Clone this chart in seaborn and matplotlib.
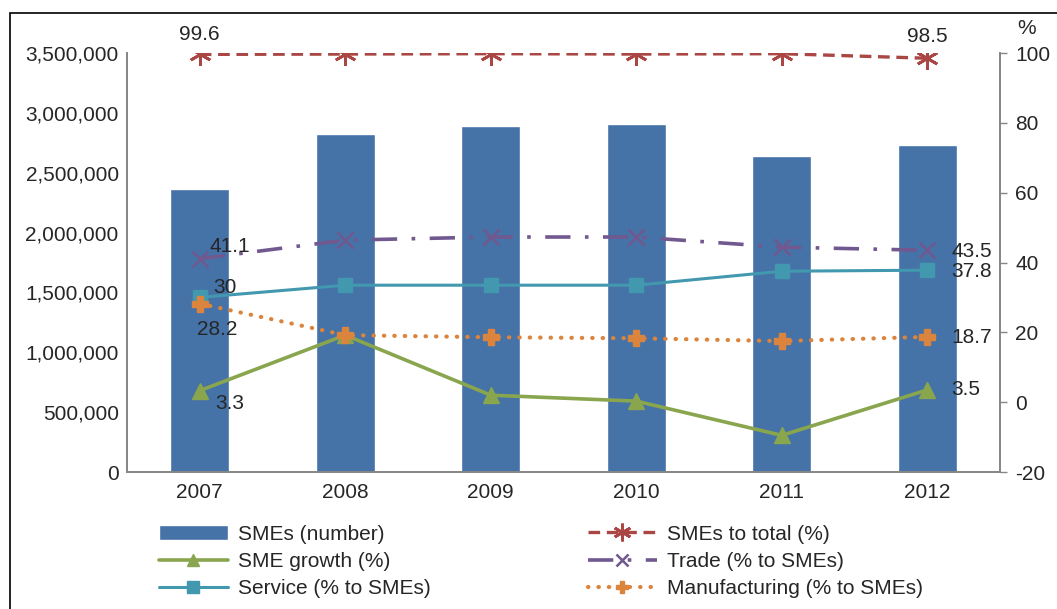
import numpy as np
import pandas as pd
import matplotlib
matplotlib.use("Agg")
import matplotlib.pyplot as plt
from matplotlib.patches import Rectangle
import seaborn as sns

years = ["2007", "2008", "2009", "2010", "2011", "2012"]
smes_number = [2364000, 2823000, 2890000, 2907000, 2640000, 2731000]
smes_total = [99.6, 99.7, 99.8, 99.7, 99.8, 98.5]
sme_growth = [3.3, 19.2, 2.0, 0.3, -9.5, 3.5]
trade = [41.1, 46.4, 47.3, 47.3, 44.4, 43.5]
service = [30.0, 33.5, 33.5, 33.5, 37.5, 37.8]
manufacturing = [28.2, 19.2, 18.6, 18.3, 17.5, 18.7]

sns.set_theme(style="white")
plt.rcParams["font.family"] = ["Liberation Sans", "DejaVu Sans"]
plt.rcParams["axes.unicode_minus"] = False
FS = 15
GRAY = "#868686"

fig = plt.figure(figsize=(10.57, 6.09), dpi=100)
ax = fig.add_axes([127 / 1057, 1 - 472 / 609, 873 / 1057, 419 / 609])

df = pd.DataFrame({"year": years, "smes": smes_number})
sns.barplot(data=df, x="year", y="smes", color="#4572A7", saturation=1,
            width=0.405, ax=ax)
ax.set_ylim(0, 3500000)
ax.set_xlim(-0.5, 5.5)
ax.set_yticks(np.arange(0, 3500001, 500000))
ax.set_yticklabels([f"{v:,}" for v in range(0, 3500001, 500000)], fontsize=FS)
ax.tick_params(axis="x", labelsize=FS, length=0, pad=8)
ax.tick_params(axis="y", length=0, pad=6)
ax.set_xlabel(""); ax.set_ylabel("")
for s in ["left", "bottom", "right"]:
    ax.spines[s].set_color(GRAY)
ax.spines["top"].set_visible(False)

ax2 = ax.twinx()
x = np.arange(len(years))
h_tot, = ax2.plot(x, smes_total, color="#AA4643", lw=2.4, ls=(0, (3.5, 2)),
                  marker=(6, 2, 0), ms=16, mew=2, label="SMEs to total (%)")
h_gr, = ax2.plot(x, sme_growth, color="#89A54E", lw=2.6, marker="^", ms=11,
                 label="SME growth (%)")
h_tr, = ax2.plot(x, trade, color="#71588F", lw=2.6, ls=(0, (7, 4, 1, 4)),
                 marker="x", ms=11, mew=1.8, label="Trade (% to SMEs)")
h_sv, = ax2.plot(x, service, color="#4198AF", lw=2.2, marker="s", ms=10,
                 label="Service (% to SMEs)")
h_mf, = ax2.plot(x, manufacturing, color="#DB843D", lw=3, ls=(0, (0.1, 2.4)),
                 dash_capstyle="round", marker="P", ms=11,
                 label="Manufacturing (% to SMEs)")
ax2.set_ylim(-20, 100)
ax2.set_yticks(range(-20, 101, 20))
ax2.tick_params(axis="y", labelsize=FS, direction="out", length=5, color=GRAY,
                width=1, pad=6, right=True)
for s in ["left", "bottom", "right"]:
    ax2.spines[s].set_color(GRAY)
ax2.spines["top"].set_visible(False)
ax2.grid(False)
ax.grid(False)
ax2.text(1.02, 1.035, "%", transform=ax2.transAxes, fontsize=FS, ha="left",
         va="bottom")

def lab(xi, yi, txt, dx, dy, ha="left", va="center"):
    ax2.annotate(txt, (xi, yi), xytext=(dx, dy), textcoords="offset pixels",
                 ha=ha, va=va, fontsize=FS)

lab(0, smes_total[0], "99.6", 0, 10, ha="center", va="bottom")
lab(5, smes_total[5], "98.5", 0, 12, ha="center", va="bottom")
lab(0, trade[0], "41.1", 10, 12)
lab(0, service[0], "30", 14, 10)
lab(0, manufacturing[0], "28.2", -3, -26)
lab(0, sme_growth[0], "3.3", 16, -13)
lab(5, trade[5], "43.5", 24, -1)
lab(5, service[5], "37.8", 24, -1)
lab(5, manufacturing[5], "18.7", 24, -1)
lab(5, sme_growth[5], "3.5", 24, 0)

bar_handle = ax.patches[0]
handles = [bar_handle, h_gr, h_sv, h_tot, h_tr, h_mf]
labels = ["SMEs (number)", "SME growth (%)", "Service (% to SMEs)",
          "SMEs to total (%)", "Trade (% to SMEs)", "Manufacturing (% to SMEs)"]
leg = fig.legend(handles, labels, ncol=2, loc="upper left",
                 bbox_to_anchor=(140 / 1057, 1 - 506 / 609), frameon=False,
                 fontsize=FS, handlelength=3.3, columnspacing=7.55,
                 labelspacing=0.4, handletextpad=0.5, markerscale=0.8)

fig.patches.append(Rectangle((10 / 1057, -0.05), 1.1, 1 - 13 / 609 + 0.05,
                             transform=fig.transFigure, fill=False,
                             edgecolor="black", lw=1.2, zorder=-1))

fig.savefig("out.png", dpi=100)
